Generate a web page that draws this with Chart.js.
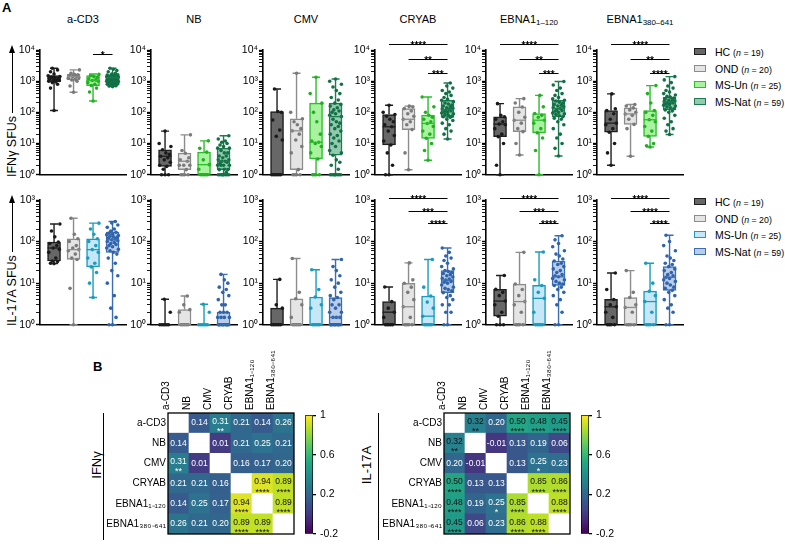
<!DOCTYPE html>
<html><head><meta charset="utf-8">
<script src="https://cdn.jsdelivr.net/npm/chart.js@4"></script>
<style>
body{margin:0;background:#fff;width:785px;height:544px;position:relative;overflow:hidden;font-family:"Liberation Sans",Arial,sans-serif;color:#000;}
canvas{position:absolute;}
.t{position:absolute;white-space:nowrap;}
sub{font-size:0.72em;vertical-align:-0.25em;}
</style></head><body>
<script>
// ---------------- DATA ----------------
const groups = ['HC','OND','MS-Un','MS-Nat'];
const groupN = [19,20,25,59];
const antigens = ['a-CD3','NB','CMV','CRYAB','EBNA1₁₋₁₂₀','EBNA1₃₈₀₋₆₄₁'];
const antigenHtml = ['a-CD3','NB','CMV','CRYAB','EBNA1<sub>1–120</sub>','EBNA1<sub>380–641</sub>'];
// box stats [min, q1, median, q3, max] per antigen per group
const ifnBox = [
 [[115,970,1240,1500,2600],[440,1100,1400,1650,2300],[230,720,1050,1500,1700],[670,860,1300,1580,2600]],
 [[1,1.85,3.9,6.3,25],[1,1.45,2.7,4.9,19],[1,1,2.1,5.3,12.2],[1,1.45,2.7,7.1,17.7]],
 [[1,1,1,106,560],[1,1.45,25.5,62,1790],[1,3.2,11,197,1340],[1,4.2,73,197,1170]],
 [[1,9,34.5,85,169],[1.44,28,60,132,158],[2.9,14.7,44,81,310],[14,69,123,244,870]],
 [[1,16.6,42,72,190],[4.3,24,56,149,275],[1,22,56,92,350],[4,72,133,244,980]],
 [[2,23,45,114,390],[3.9,41,89,139,178],[7.7,17,58,114,720],[19.5,120,213,307,1400]]
];
const il17Box = [
 [[29.5,34,70,97,265],[1,37,64,117,364],[4.5,24.6,64,117,277],[1,55,110,168,303]],
 [[1,1,1,1,4.1],[1,1,1,2.3,4.9],[1,1,1,1,3.1],[1,1,1,2,16.2]],
 [[1,1,1,2.5,12.3],[1,1,1,4.2,39],[1,1,1,4.65,21],[1,1,1.5,4.5,37]],
 [[1,1,2,3.6,8.1],[1,1,2.7,9.9,30.7],[1,1,1.6,4.9,37],[1,5.9,11.8,20,70]],
 [[1,1.6,3.7,7.1,15.3],[1,1,3.6,9.5,55],[1,1,4.3,8.8,56],[1,8.8,14.2,34,138]],
 [[1,1,2.7,4.05,17.6],[1,1,2.6,4.5,20],[1,1,3.6,6.4,30],[1,6.7,13.9,25,142]]
];
// individual donor points (approximate readings)
const ifnPts = [
 [[115,600,800,900,950,1000,1050,1100,1150,1200,1240,1300,1350,1400,1500,1700,2000,2300,2600],
  [440,700,1000,1100,1150,1250,1300,1400,1450,1500,1600,1650,1800,2300],
  [230,450,600,720,800,900,1000,1050,1100,1200,1300,1400,1500,1650],
  [670,700,720,750,780,800,820,850,860,880,900,930,950,980,1000,1030,1050,1080,1100,1130,1150,1180,1200,1230,1250,1280,1300,1330,1350,1380,1400,1430,1450,1500,1550,1580,1600,1700,1800,2000,2200,2400,2600]],
 [[1,1,1,1.5,1.85,2,2.5,3,3.5,3.9,4.5,5,6.3,8,10,25],
  [1,1,1,1,1.45,2,2,2,2.7,3,3.5,4.9,6,19],
  [1,1,1,1,1,1.5,2.1,3,5.3,7,12.2],
  [1,1,1,1,1,1,1,1,1.2,1.45,1.45,1.5,2,2,2,2,2.3,2.5,2.7,2.7,3,3,3.5,4,4,5,5,6,7.1,7.1,8,9,10,11,12,14,17.7]],
 [[1,1,1,1,1,1,13,17,27,57,100,106,560],
  [1,1,1,1,1.45,5,8,13,20,25.5,30,40,50,62,100,1790],
  [1,1,1,1,3.2,5,8,10,11,12,20,50,100,197,400,1340],
  [1,1,1,1,1,1,1,1,1.5,2,2.5,3,4.2,5,6,8,10,12,15,18,20,25,30,35,40,45,50,60,73,80,90,100,110,120,140,160,180,197,250,300,400,500,650,800,1000,1170]],
 [[1,1,2,5,9,12,18,25,34.5,40,50,60,75,85,100,169],
  [1.44,5,28,40,50,60,75,90,110,132,150,158],
  [2.9,6,10,14.7,20,25,35,44,50,60,70,81,100,150,310],
  [14,20,25,30,40,45,55,60,69,72,75,80,85,90,95,100,105,110,115,123,128,135,140,150,160,170,185,200,220,244,260,300,350,400,450,500,600,700,870]],
 [[1,2,10,16.6,20,30,40,42,50,60,72,80,190],
  [4.3,10,24,30,45,56,70,100,149,200,275],
  [1,6,15,22,30,45,56,70,80,92,150,350],
  [4,7,10,15,20,30,40,50,60,65,72,78,85,90,95,100,108,115,120,133,140,150,160,170,180,195,210,230,244,270,300,350,400,500,600,750,980]],
 [[2,5,10,23,30,40,45,60,90,114,130,390],
  [3.9,30,41,60,80,89,100,120,139,160,178],
  [7.7,8.5,10,17,25,35,50,58,80,100,114,200,400,720],
  [19.5,25,30,40,50,65,80,100,110,120,130,140,150,160,170,180,190,200,205,213,220,230,240,255,270,290,307,330,360,400,450,500,600,700,900,1100,1400]]
];
const il17Pts = [
 [[29.5,30,33,34,40,55,65,70,80,90,97,130,180,265],
  [1,7.5,37,40,50,60,64,70,80,100,117,150,364],
  [4.5,10,18,24.6,30,40,55,64,80,100,117,150,200,277],
  [1,1,1.5,2.5,5,10,15,20,30,40,50,55,60,65,70,75,80,85,90,95,100,105,110,115,120,125,130,135,140,145,150,160,168,180,200,220,250,280,303]],
 [[1,1,1,1,1,1,2,4.1],[1,1,1,1,1,2,2.3,3,4.9],[1,1,1,1,1,1,2,3.1],
  [1,1,1,1,1,1,1,1,1,1,1,1.5,1.5,1.5,1.5,2,2,2,3,3,4,5,6,7,8,10,12,16.2]],
 [[1,1,1,1,1,1,2.5,3,12.3],[1,1,1,1,1,1.5,3,4.2,6,39],[1,1,1,1,1,2.5,3,4.65,7,21],
  [1,1,1,1,1,1,1,1,1,1,1.5,1.5,1.5,2,2,2.5,3,3,4,4.5,5,6,8,10,12,15,20,25,37]],
 [[1,1,1,1,1,1.5,2,2.5,3.6,8.1],[1,1,1,1,1.5,2.7,4,6,8,9.9,12,30.7],[1,1,1,1,1,1.6,2.5,3.5,4.9,8,37],
  [1,1,2,2,3,3,4,4.5,5,5.9,6.5,7,7.5,8,9,10,10.5,11,11.8,12.5,13,14,15,16,17,18,19,20,22,25,30,35,40,45,55,70]],
 [[1,1,1,1.6,2,3,3.7,5,6,7.1,15.3],[1,1,1,1,2,3,3.6,5,7,9.5,55],[1,1,1,1,1,2,4.3,6,8.8,12,56],
  [1,1,2,3,4,5,6,7,8,8.8,9.5,10,11,12,13,14.2,15,16,18,20,22,25,28,30,34,38,45,50,60,75,90,110,138]],
 [[1,1,1,1,1.5,2,2.7,3,4.05,7,17.6],[1,1,1,1,2,2.6,3,4.5,6,20],[1,1,1,1,2,3.6,5,6.4,10,30],
  [1,1,2,2.5,3,4,5,6,6.7,7.5,8,9,10,11,12,13,13.9,15,16,18,20,22,25,28,30,35,40,45,60,80,100,142]]
];
// significance: [fromGroup, toGroup, label, level]
const ifnSig = [[[2,3,'*',0.7]],[],[],
 [[0,3,'****',0],[1,3,'**',1],[2,3,'***',2]],
 [[0,3,'****',0],[1,3,'**',1],[2,3,'***',2]],
 [[0,3,'****',0],[1,3,'**',1],[2,3,'****',2]]];
const il17Sig = [[],[],[],
 [[0,3,'****',0],[1,3,'***',1],[2,3,'****',2]],
 [[0,3,'****',0],[1,3,'***',1],[2,3,'****',2]],
 [[0,3,'****',0],[1,3,'****',1],[2,3,'****',2]]];
// correlation matrices
const ifnCorr = [[null,0.14,0.31,0.21,0.14,0.26],[0.14,null,0.01,0.21,0.25,0.21],[0.31,0.01,null,0.16,0.17,0.20],
 [0.21,0.21,0.16,null,0.94,0.89],[0.14,0.25,0.17,0.94,null,0.89],[0.26,0.21,0.20,0.89,0.89,null]];
const ifnStars = [['','','**','','',''],['','','','','',''],['**','','','','',''],
 ['','','','','****','****'],['','','','****','','****'],['','','','****','****','']];
const il17Corr = [[null,0.32,0.20,0.50,0.48,0.45],[0.32,null,-0.01,0.13,0.19,0.06],[0.20,-0.01,null,0.13,0.25,0.23],
 [0.50,0.13,0.13,null,0.85,0.86],[0.48,0.19,0.25,0.85,null,0.88],[0.45,0.06,0.23,0.86,0.88,null]];
const il17Stars = [['','**','','****','****','****'],['**','','','','',''],['','','','','*',''],
 ['****','','','','****','****'],['****','','*','****','','****'],['****','','','****','****','']];
const cbTicks = [-0.2,0.2,0.6,1];
const cbLabels = ['-0.2','0.2','0.6','1'];

// ---------------- STYLE ----------------
Chart.defaults.font.family = '"Liberation Sans", Arial, sans-serif';
Chart.defaults.color = '#000';
const pal1 = {fill:['#676767','#e4e4e4','#a9f3a0','#93c9ae'], line:['#1e1e1e','#8c8c8c','#2dbd2d','#1f7a52'], pt:['#1a1a1a','#7a7a7a','#22b022','#127045']};
const pal2 = {fill:['#676767','#e4e4e4','#c6e7f7','#b9cde9'], line:['#1e1e1e','#8c8c8c','#1b9cbc','#3b6db0'], pt:['#1a1a1a','#7a7a7a','#1b9cbc','#2f64ad']};
const axisX = [40,151,263,375,486,597];
const plotW = 86;
const rows = [{top:50,bottom:176,decs:4,sigBase:-6,sigStep:14.5},{top:200,bottom:326,decs:3,sigBase:-2,sigStep:12.5}];
const jit = [0,-0.18,0.18,-0.09,0.09,-0.27,0.27,-0.04,0.14,-0.22,0.22,0.04,-0.13,0.3,-0.3];
const sup = ['⁰','¹','²','³','⁴'];
const vir = ['#440154','#482475','#414487','#355f8d','#2a788e','#21918c','#22a884','#44bf70','#7ad151','#bddf26','#fde725'];
function hex(c){return [1,3,5].map(i=>parseInt(c.substr(i,2),16));}
function viridis(v){
  let t=(v+0.2)/1.2; t=Math.max(0,Math.min(1,t));
  const p=t*10, i=Math.min(9,Math.floor(p)), f=p-i;
  const a=hex(vir[i]), b=hex(vir[i+1]);
  return 'rgb('+a.map((x,k)=>Math.round(x+(b[k]-x)*f)).join(',')+')';
}

function el(tag, css, html){const e=document.createElement(tag); e.style.cssText=css; if(html!==undefined) e.innerHTML=html; document.body.appendChild(e); return e;}
function canvas(l,t,w,h){const c=el('canvas','left:'+l+'px;top:'+t+'px;width:'+w+'px;height:'+h+'px;'); c.width=w; c.height=h; return c;}

function boxChart(cv, stats, pts, sigs, row, pal){
  const datasets=[{type:'bar', data:stats.map((s,i)=>({x:i,y:[s[1],s[3]]})), backgroundColor:pal.fill, borderColor:pal.line,
    borderWidth:1.5, borderSkipped:false, barThickness:13, order:5}];
  pts.forEach((arr,i)=>datasets.push({type:'scatter', data:arr.map((v,k)=>({x:i+jit[k%jit.length], y:v})),
    pointRadius:1.8, pointBackgroundColor:pal.pt[i], pointBorderWidth:0, clip:false, order:1}));
  const plug={id:'bx',
    beforeDatasetsDraw(ch){
      const {ctx}=ch, xs=ch.scales.x, ys=ch.scales.y;
      stats.forEach((s,i)=>{
        const x=xs.getPixelForValue(i); ctx.save(); ctx.strokeStyle=pal.line[i]; ctx.lineWidth=1.4; ctx.beginPath();
        ctx.moveTo(x,ys.getPixelForValue(s[0])); ctx.lineTo(x,ys.getPixelForValue(s[1]));
        ctx.moveTo(x,ys.getPixelForValue(s[3])); ctx.lineTo(x,ys.getPixelForValue(s[4]));
        [s[0],s[4]].forEach(v=>{const y=ys.getPixelForValue(v); ctx.moveTo(x-4,y); ctx.lineTo(x+4,y);});
        ctx.stroke(); ctx.restore();
      });
    },
    afterDatasetsDraw(ch){
      const {ctx}=ch, xs=ch.scales.x, ys=ch.scales.y;
      stats.forEach((s,i)=>{
        const x=xs.getPixelForValue(i), y=ys.getPixelForValue(s[2]);
        ctx.save(); ctx.strokeStyle=pal.line[i]; ctx.lineWidth=1.3; ctx.beginPath(); ctx.moveTo(x-6.5,y); ctx.lineTo(x+6.5,y); ctx.stroke(); ctx.restore();
      });
      sigs.forEach(sg=>{
        const x1=xs.getPixelForValue(sg[0]), x2=xs.getPixelForValue(sg[1]);
        const y=Math.round(ch.chartArea.top+row.sigBase+sg[3]*row.sigStep)+0.5;
        ctx.save(); ctx.strokeStyle='#000'; ctx.lineWidth=1; ctx.beginPath(); ctx.moveTo(x1,y); ctx.lineTo(x2,y); ctx.stroke();
        ctx.fillStyle='#000'; ctx.font='bold 10px "Liberation Sans", Arial'; ctx.textAlign='center'; ctx.textBaseline='alphabetic';
        ctx.fillText(sg[2],(x1+x2)/2,y+4); ctx.restore();
      });
    }};
  new Chart(cv,{type:'bar', data:{datasets}, plugins:[plug], options:{
    responsive:false, animation:false, events:[], devicePixelRatio:1,
    layout:{padding:{top:16,bottom:6,left:0,right:4}},
    plugins:{legend:{display:false}, tooltip:{enabled:false}},
    scales:{
      x:{type:'linear', min:-0.72, max:3.69, offset:false, ticks:{display:false}, grid:{display:false,drawTicks:false,offset:false},
         border:{display:true,color:'#000',width:1.6}, afterFit(s){s.height=0;}},
      y:{type:'logarithmic', min:1, max:Math.pow(10,row.decs),
         afterBuildTicks(s){const t=[]; for(let e=0;e<row.decs;e++) for(let m=1;m<10;m++) t.push({value:m*Math.pow(10,e)}); t.push({value:Math.pow(10,row.decs)}); s.ticks=t;},
         ticks:{autoSkip:false, padding:1, font:{size:10.5}, color:'#000',
           callback(v){const e=Math.round(Math.log10(v)); return Math.abs(v-Math.pow(10,e))<1e-9 ? '10'+sup[e] : '';}},
         grid:{display:true, drawOnChartArea:false, drawTicks:true, tickLength:4, color:'#000',
           tickWidth(c){const v=c.tick?c.tick.value:1; const e=Math.round(Math.log10(v)); return Math.abs(v-Math.pow(10,e))<1e-9?1.4:0.9;}},
         border:{display:true,color:'#000',width:1.6}, afterFit(s){s.width=36;}}
    }}});
}

function heatChart(cv, corr, stars){
  const data=[], colors=[];
  for(let r=0;r<6;r++) for(let c=0;c<6;c++){ data.push({x:antigens[c], y:[r-0.5,r+0.5]}); colors.push(r===c?'#ffffff':viridis(corr[r][c])); }
  const plug={id:'hm', afterDatasetsDraw(ch){
    const {ctx}=ch, xs=ch.scales.x, ys=ch.scales.y, a=ch.chartArea;
    ctx.save(); ctx.textAlign='center';
    for(let r=0;r<6;r++) for(let c=0;c<6;c++){
      if(r===c) continue;
      const v=corr[r][c], x=xs.getPixelForValue(c), y=ys.getPixelForValue(r), st=stars[r][c];
      ctx.fillStyle = v<0.315 ? '#ffffff' : '#111111';
      ctx.font='8.5px "Liberation Sans", Arial'; ctx.textBaseline='middle';
      ctx.fillText(v.toFixed(2), x, st? y-1.5 : y);
      if(st){ ctx.font='9px "Liberation Sans", Arial'; ctx.textBaseline='alphabetic'; ctx.fillText(st, x, y+11); }
    }
    ctx.strokeStyle='#000'; ctx.lineWidth=1.3; ctx.strokeRect(a.left,a.top,a.right-a.left,a.bottom-a.top);
    ctx.restore();
  }};
  new Chart(cv,{type:'bar', data:{labels:antigens, datasets:[{data, backgroundColor:colors, borderWidth:0, barPercentage:1, categoryPercentage:1}]},
    plugins:[plug], options:{responsive:false, animation:false, events:[], devicePixelRatio:1,
    layout:{padding:{left:0,right:2,top:0,bottom:3}},
    plugins:{legend:{display:false}, tooltip:{enabled:false}},
    scales:{
      x:{position:'top', offset:true, grid:{display:false,drawTicks:false}, border:{display:false},
         ticks:{autoSkip:false, minRotation:90, maxRotation:90, padding:3, font:{size:10}, color:'#000'}, afterFit(s){s.height=64;}},
      y:{type:'linear', reverse:true, min:-0.5, max:5.5, grid:{display:false,drawTicks:false}, border:{display:false},
         afterBuildTicks(s){s.ticks=[0,1,2,3,4,5].map(v=>({value:v}));},
         ticks:{autoSkip:false, padding:2, font:{size:10}, color:'#000', callback:v=>antigens[v]}, afterFit(s){s.width=72;}}
    }}});
}

function colorbar(cv){
  new Chart(cv,{type:'bar', data:{labels:[''], datasets:[{data:[[-0.2,1]], borderColor:'#000', borderWidth:1, borderSkipped:false,
    barPercentage:1, categoryPercentage:1,
    backgroundColor(c){const a=c.chart.chartArea; if(!a) return '#888'; const g=c.chart.ctx.createLinearGradient(0,a.bottom,0,a.top); vir.forEach((col,i)=>g.addColorStop(i/10,col)); return g;}}]},
    options:{responsive:false, animation:false, events:[], devicePixelRatio:1,
    layout:{padding:{left:5,right:0,top:8,bottom:4}},
    plugins:{legend:{display:false}, tooltip:{enabled:false}},
    scales:{x:{display:false},
      y:{position:'right', min:-0.2, max:1, afterBuildTicks(s){s.ticks=cbTicks.map(v=>({value:v}));},
         ticks:{autoSkip:false, padding:4, font:{size:10.5}, color:'#000', callback:(v,i)=>cbLabels[i]},
         grid:{display:true, drawOnChartArea:false, tickLength:3, color:'#000', lineWidth:1.3}, border:{display:false}, afterFit(s){s.width=28;}}
    }}});
}

// ---------------- LAYOUT ----------------
el('div','position:absolute;left:2px;top:0px;font-weight:bold;font-size:13px;','A').className='t';
el('div','position:absolute;left:93px;top:359px;font-weight:bold;font-size:13px;','B').className='t';
antigenHtml.forEach((h,p)=>{ el('div','position:absolute;left:'+(axisX[p]-10)+'px;top:12px;width:'+(plotW+20)+'px;text-align:center;font-size:11px;line-height:14px;',h); });

function yTitle(text, bottom, len){
  el('div','position:absolute;left:5px;top:'+bottom+'px;width:'+len+'px;height:14px;transform-origin:0 0;transform:rotate(-90deg);display:flex;align-items:center;font-size:12.5px;',
    '<span style="white-space:nowrap">'+text+'</span><span style="flex:1;height:0;border-top:1.4px solid #000;margin-left:3px"></span><span style="width:0;height:0;border-top:3.5px solid transparent;border-bottom:3.5px solid transparent;border-left:8px solid #000"></span>');
}
yTitle('IFNγ SFUs',177,132);
yTitle('IL-17A SFUs',326,131);

function legend(top0, pal){
  const ys=[top0, top0+16.7, top0+33.3, top0+50];
  groups.forEach((g,i)=>{
    el('div','position:absolute;left:694px;top:'+(ys[i]-4)+'px;width:10px;height:5px;background:'+pal.fill[i]+';border:1.5px solid '+pal.line[i]+';');
    el('div','position:absolute;left:715px;top:'+(ys[i]-7)+'px;line-height:14px;font-size:10.5px;white-space:nowrap;',
      g+' <span style="font-size:8.8px">(<i>n</i> = '+groupN[i]+')</span>');
  });
}
legend(52,pal1); legend(202,pal2);

[0,1].forEach(ri=>{
  const row=rows[ri];
  for(let p=0;p<6;p++){
    const cv=canvas(axisX[p]-36,row.top-16,36+plotW+4,16+126+6);
    if(ri===0) boxChart(cv, ifnBox[p], ifnPts[p], ifnSig[p], row, pal1);
    else boxChart(cv, il17Box[p], il17Pts[p], il17Sig[p], row, pal2);
  }
});

// heatmaps
function sideLabel(text, cx, lineX){
  el('div','position:absolute;left:'+lineX+'px;top:413px;width:0;height:127px;border-left:1.3px solid #000;');
  el('div','position:absolute;left:'+(cx-30)+'px;top:'+(465-8)+'px;width:60px;height:16px;line-height:16px;text-align:center;font-size:13px;transform:rotate(-90deg);',text);
}
sideLabel('IFNγ',97,103);
sideLabel('IL-17A',367,378);
heatChart(canvas(168-72,413-64,72+126+2,64+126+3), ifnCorr, ifnStars);
heatChart(canvas(444-72,413-64,72+126+2,64+126+3), il17Corr, il17Stars);
colorbar(canvas(300,405,41,139));
colorbar(canvas(576,405,41,139));
</script>
</body></html>
